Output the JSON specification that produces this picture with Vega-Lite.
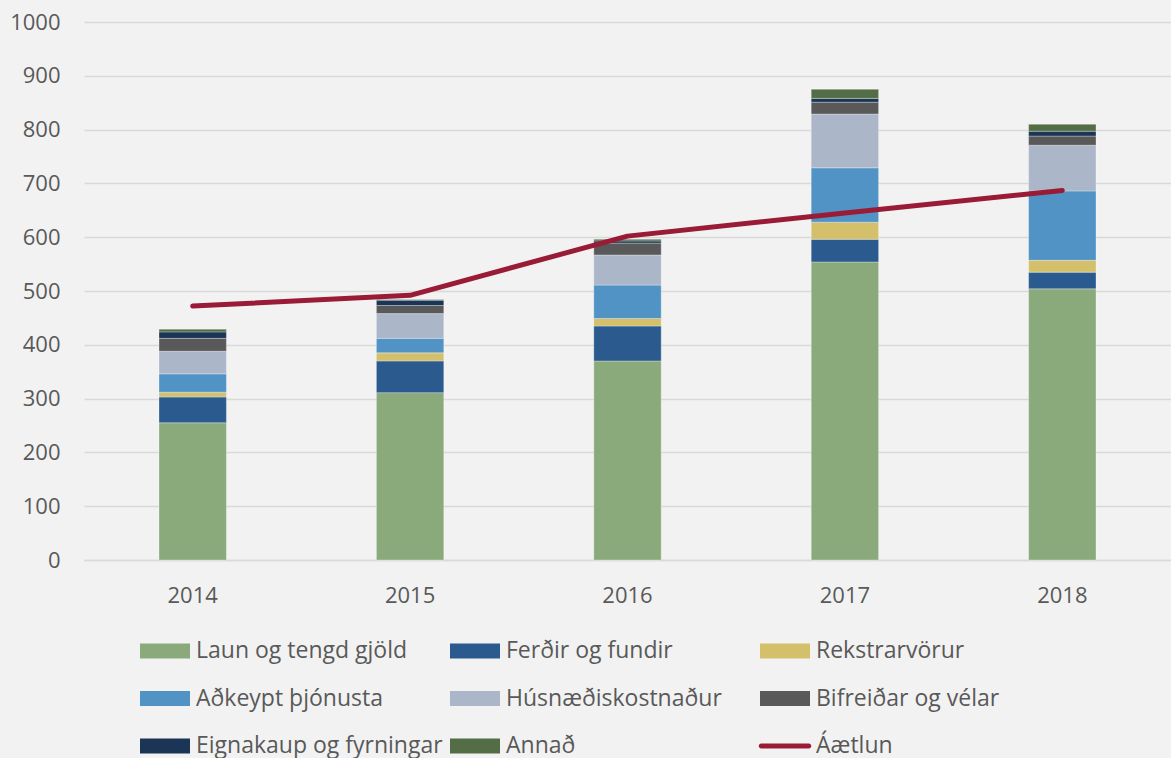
{
  "$schema": "https://vega.github.io/schema/vega-lite/v6.json",
  "width": 1087,
  "height": 538,
  "autosize": {"type": "none"},
  "padding": {"left": 84, "top": 22, "right": 0, "bottom": 198},
  "background": "#f2f2f2",
  "datasets": {
    "categories": [
      {"category": "Laun og tengd gjöld", "rank": 1},
      {"category": "Ferðir og fundir", "rank": 2},
      {"category": "Rekstrarvörur", "rank": 3},
      {"category": "Aðkeypt þjónusta", "rank": 4},
      {"category": "Húsnæðiskostnaður", "rank": 5},
      {"category": "Bifreiðar og vélar", "rank": 6},
      {"category": "Eignakaup og fyrningar", "rank": 7},
      {"category": "Annað", "rank": 8}
    ],
    "costs": [
      {"year": "2014", "category": "Laun og tengd gjöld", "value": 255},
      {"year": "2014", "category": "Ferðir og fundir", "value": 48},
      {"year": "2014", "category": "Rekstrarvörur", "value": 9},
      {"year": "2014", "category": "Aðkeypt þjónusta", "value": 34},
      {"year": "2014", "category": "Húsnæðiskostnaður", "value": 42},
      {"year": "2014", "category": "Bifreiðar og vélar", "value": 24},
      {"year": "2014", "category": "Eignakaup og fyrningar", "value": 12},
      {"year": "2014", "category": "Annað", "value": 5},
      {"year": "2015", "category": "Laun og tengd gjöld", "value": 311},
      {"year": "2015", "category": "Ferðir og fundir", "value": 59},
      {"year": "2015", "category": "Rekstrarvörur", "value": 15},
      {"year": "2015", "category": "Aðkeypt þjónusta", "value": 27},
      {"year": "2015", "category": "Húsnæðiskostnaður", "value": 46},
      {"year": "2015", "category": "Bifreiðar og vélar", "value": 15},
      {"year": "2015", "category": "Eignakaup og fyrningar", "value": 10},
      {"year": "2015", "category": "Annað", "value": 1},
      {"year": "2016", "category": "Laun og tengd gjöld", "value": 370},
      {"year": "2016", "category": "Ferðir og fundir", "value": 65},
      {"year": "2016", "category": "Rekstrarvörur", "value": 14},
      {"year": "2016", "category": "Aðkeypt þjónusta", "value": 62},
      {"year": "2016", "category": "Húsnæðiskostnaður", "value": 56},
      {"year": "2016", "category": "Bifreiðar og vélar", "value": 22},
      {"year": "2016", "category": "Eignakaup og fyrningar", "value": 4},
      {"year": "2016", "category": "Annað", "value": 3},
      {"year": "2017", "category": "Laun og tengd gjöld", "value": 554},
      {"year": "2017", "category": "Ferðir og fundir", "value": 42},
      {"year": "2017", "category": "Rekstrarvörur", "value": 32},
      {"year": "2017", "category": "Aðkeypt þjónusta", "value": 101},
      {"year": "2017", "category": "Húsnæðiskostnaður", "value": 100},
      {"year": "2017", "category": "Bifreiðar og vélar", "value": 22},
      {"year": "2017", "category": "Eignakaup og fyrningar", "value": 7},
      {"year": "2017", "category": "Annað", "value": 17},
      {"year": "2018", "category": "Laun og tengd gjöld", "value": 504},
      {"year": "2018", "category": "Ferðir og fundir", "value": 31},
      {"year": "2018", "category": "Rekstrarvörur", "value": 22},
      {"year": "2018", "category": "Aðkeypt þjónusta", "value": 129},
      {"year": "2018", "category": "Húsnæðiskostnaður", "value": 85},
      {"year": "2018", "category": "Bifreiðar og vélar", "value": 17},
      {"year": "2018", "category": "Eignakaup og fyrningar", "value": 9},
      {"year": "2018", "category": "Annað", "value": 13}
    ],
    "budget": [
      {"year": "2014", "category": "Áætlun", "value": 472},
      {"year": "2015", "category": "Áætlun", "value": 492},
      {"year": "2016", "category": "Áætlun", "value": 602},
      {"year": "2017", "category": "Áætlun", "value": 645},
      {"year": "2018", "category": "Áætlun", "value": 687}
    ]
  },
  "encoding": {
    "x": {
      "field": "year", "type": "ordinal", "title": null,
      "scale": {"paddingInner": 0.69, "paddingOuter": 0.345},
      "axis": {
        "labelAngle": 0, "ticks": false, "labelPadding": 25,
        "domainColor": "#d9d9d9", "domainWidth": 1.5,
        "labelFontSize": 22, "labelColor": "#595959", "labelFont": "Open Sans"
      }
    },
    "y": {
      "field": "value", "type": "quantitative", "title": null,
      "scale": {"domain": [0, 1000], "nice": false},
      "axis": {
        "values": [0, 100, 200, 300, 400, 500, 600, 700, 800, 900, 1000],
        "format": "d",
        "domain": false, "ticks": false, "labelPadding": 24,
        "gridColor": "#d9d9d9", "gridWidth": 1.5,
        "labelFontSize": 22, "labelColor": "#595959", "labelFont": "Open Sans"
      }
    }
  },
  "layer": [
    {
      "data": {"name": "costs"},
      "transform": [
        {"lookup": "category", "from": {"data": {"name": "categories"}, "key": "category", "fields": ["rank"]}}
      ],
      "mark": {"type": "bar", "stroke": "#ffffff", "strokeOpacity": 0.3, "strokeWidth": 1},
      "encoding": {
        "y": {"field": "value", "type": "quantitative", "stack": "zero", "title": null},
        "order": {"field": "rank", "type": "quantitative", "sort": "ascending"},
        "color": {
          "field": "category", "type": "nominal", "title": null,
          "scale": {
            "domain": ["Laun og tengd gjöld", "Ferðir og fundir", "Rekstrarvörur", "Aðkeypt þjónusta", "Húsnæðiskostnaður", "Bifreiðar og vélar", "Eignakaup og fyrningar", "Annað", "Áætlun"],
            "range": ["#8aaa7c", "#2b5a8e", "#d4c06a", "#5193c4", "#abb6c9", "#595959", "#1b3556", "#536e46", "#9a1b36"]
          }
        }
      }
    },
    {
      "data": {"name": "budget"},
      "mark": {"type": "line", "color": "#9a1b36", "strokeWidth": 5, "strokeCap": "round", "strokeJoin": "round"},
      "encoding": {}
    },
    {
      "data": {"name": "budget"},
      "mark": {"type": "point", "filled": true, "opacity": 0},
      "encoding": {
        "color": {"field": "category", "type": "nominal", "title": null},
        "shape": {
          "field": "category", "type": "nominal", "title": null,
          "scale": {
            "domain": ["Laun og tengd gjöld", "Ferðir og fundir", "Rekstrarvörur", "Aðkeypt þjónusta", "Húsnæðiskostnaður", "Bifreiðar og vélar", "Eignakaup og fyrningar", "Annað", "Áætlun"],
            "range": [
              "M-1,-0.3H1V0.3H-1Z", "M-1,-0.3H1V0.3H-1Z", "M-1,-0.3H1V0.3H-1Z",
              "M-1,-0.3H1V0.3H-1Z", "M-1,-0.3H1V0.3H-1Z", "M-1,-0.3H1V0.3H-1Z",
              "M-1,-0.3H1V0.3H-1Z", "M-1,-0.3H1V0.3H-1Z",
              "M-0.95,-0.1H0.95A0.1,0.1 0 0 1 0.95,0.1H-0.95A0.1,0.1 0 0 1 -0.95,-0.1Z"
            ]
          }
        }
      }
    }
  ],
  "config": {
    "view": {"stroke": null},
    "legend": {
      "orient": "none", "legendX": 56, "legendY": 604,
      "direction": "horizontal", "columns": 3, "gridAlign": "all",
      "columnPadding": 5, "rowPadding": 10.5,
      "symbolSize": 2500, "symbolOpacity": 1, "symbolStrokeWidth": 0,
      "labelFontSize": 23, "labelColor": "#595959", "labelFont": "Open Sans",
      "labelOffset": 6, "labelLimit": 400
    }
  }
}
